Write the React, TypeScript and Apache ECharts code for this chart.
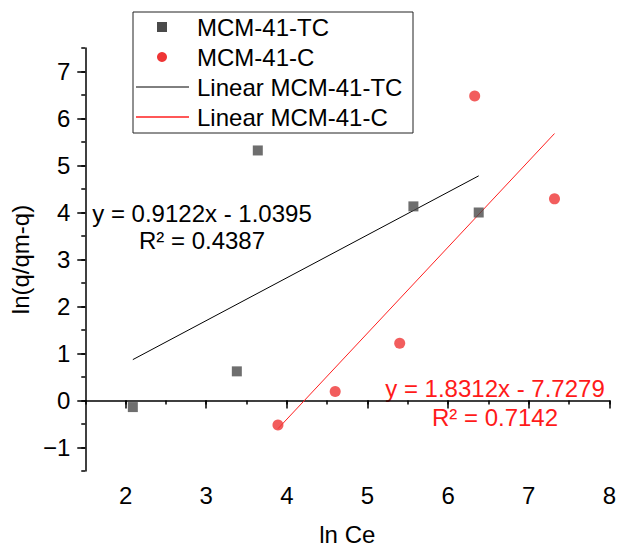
import React, { useEffect, useRef } from "react";
import * as echarts from "echarts";

const tcPoints: [number, number][] = [
  [2.09, -0.14],
  [3.38, 0.62],
  [3.64, 5.32],
  [5.57, 4.13],
  [6.38, 4.0],
];
const cPoints: [number, number][] = [
  [3.89, -0.52],
  [4.6, 0.19],
  [5.4, 1.22],
  [6.33, 6.48],
  [7.32, 4.29],
];
const tcFit: [number, number][] = [
  [2.09, 0.87],
  [6.38, 4.78],
];
const cFit: [number, number][] = [
  [3.89, -0.6],
  [7.32, 5.68],
];
const xTicks = [2, 3, 4, 5, 6, 7, 8];
const yTicks = [-1, 0, 1, 2, 3, 4, 5, 6, 7];
const seriesNames = ["MCM-41-TC", "MCM-41-C", "Linear MCM-41-TC", "Linear MCM-41-C"];
const tcEq = ["y = 0.9122x - 1.0395", "R² = 0.4387"];
const cEq = ["y = 1.8312x - 7.7279", "R² = 0.7142"];

const FONT = "'Liberation Sans', Arial, sans-serif";
const FS = 24;
const RED = "#ef3535";
const LINE_RED = "#ff1f1f";
const GRAY = "#4a4a4a";

export default function App() {
  const ref = useRef<HTMLDivElement>(null);
  useEffect(() => {
    if (!ref.current) return;
    const chart = echarts.init(ref.current, undefined, { renderer: "svg" });
    const fmt = (v: number) => String(v).replace("-", "\u2212");
    const rowY = [27, 57, 87, 117];
    const legendText = (i: number) => ({
      type: "text",
      x: 197,
      y: rowY[i],
      style: {
        text: seriesNames[i],
        fontSize: FS,
        fill: "#000",
        fontFamily: FONT,
        verticalAlign: "middle",
        align: "left",
      },
    });
    chart.setOption({
      animation: false,
      backgroundColor: "#fff",
      textStyle: { fontFamily: FONT },
      grid: { left: 81, right: 6, top: 48, bottom: 73 },
      xAxis: [
        {
          type: "value",
          min: 1.5,
          max: 8,
          name: "ln Ce",
          nameLocation: "middle",
          nameGap: 51,
          nameTextStyle: { fontSize: FS, color: "#000", fontFamily: FONT },
          axisLine: { lineStyle: { color: "#000", width: 1.5 } },
          axisTick: { length: 8, customValues: xTicks, lineStyle: { color: "#000", width: 1.5 } },
          axisLabel: { customValues: xTicks, fontSize: FS, color: "#000", margin: 12, fontFamily: FONT },
          splitLine: { show: false },
        },
        {
          type: "value",
          min: 1.5,
          max: 8,
          interval: 0.5,
          position: "bottom",
          axisLine: { show: false },
          axisTick: { length: 4, lineStyle: { color: "#000", width: 1.5 } },
          axisLabel: { show: false },
          splitLine: { show: false },
        },
      ],
      yAxis: [
        {
          type: "value",
          min: -1.5,
          max: 7.5,
          name: "ln(q/qm-q)",
          nameLocation: "middle",
          nameGap: 47,
          nameTextStyle: { fontSize: FS, color: "#000", fontFamily: FONT },
          axisLine: { show: true, lineStyle: { color: "#000", width: 1.5 } },
          axisTick: { show: true, length: 8, customValues: yTicks, lineStyle: { color: "#000", width: 1.5 } },
          axisLabel: { customValues: yTicks, fontSize: FS, color: "#000", margin: 15, formatter: fmt, fontFamily: FONT },
          splitLine: { show: false },
        },
        {
          type: "value",
          min: -1.5,
          max: 7.5,
          interval: 0.5,
          position: "left",
          axisLine: { show: false },
          axisTick: { show: true, length: 4, lineStyle: { color: "#000", width: 1.5 } },
          axisLabel: { show: false },
          splitLine: { show: false },
        },
      ],
      series: [
        {
          name: seriesNames[2],
          type: "line",
          data: tcFit,
          symbol: "none",
          lineStyle: { color: "#000", width: 1 },
          z: 1,
        },
        {
          name: seriesNames[3],
          type: "line",
          data: cFit,
          symbol: "none",
          lineStyle: { color: LINE_RED, width: 1 },
          z: 1,
        },
        {
          name: seriesNames[0],
          type: "scatter",
          data: tcPoints,
          symbol: "rect",
          symbolSize: 10,
          itemStyle: { color: GRAY },
          z: 3,
        },
        {
          name: seriesNames[1],
          type: "scatter",
          data: cPoints,
          symbol: "circle",
          symbolSize: 11,
          itemStyle: { color: RED },
          z: 3,
        },
      ],
      graphic: [
        {
          type: "rect",
          shape: { x: 133, y: 12, width: 280, height: 121 },
          style: { fill: "#fff", stroke: "#222", lineWidth: 1 },
          z: 10,
        },
        {
          type: "rect",
          shape: { x: 157, y: rowY[0] - 5, width: 10, height: 10 },
          style: { fill: GRAY },
          z: 11,
        },
        {
          type: "circle",
          shape: { cx: 162, cy: rowY[1], r: 5 },
          style: { fill: RED },
          z: 11,
        },
        {
          type: "line",
          shape: { x1: 136, y1: rowY[2], x2: 189, y2: rowY[2] },
          style: { stroke: "#000", lineWidth: 1 },
          z: 11,
        },
        {
          type: "line",
          shape: { x1: 136, y1: rowY[3], x2: 189, y2: rowY[3] },
          style: { stroke: LINE_RED, lineWidth: 1.5 },
          z: 11,
        },
        { ...legendText(0), z: 11 },
        { ...legendText(1), z: 11 },
        { ...legendText(2), z: 11 },
        { ...legendText(3), z: 11 },
        {
          type: "text",
          x: 202,
          y: 213,
          style: { text: tcEq[0], fontSize: FS, fill: "#000", fontFamily: FONT, align: "center", verticalAlign: "middle" },
        },
        {
          type: "text",
          x: 202,
          y: 240,
          style: { text: tcEq[1], fontSize: FS, fill: "#000", fontFamily: FONT, align: "center", verticalAlign: "middle" },
        },
        {
          type: "text",
          x: 495,
          y: 388,
          style: { text: cEq[0], fontSize: FS, fill: "#ff1a1a", fontFamily: FONT, align: "center", verticalAlign: "middle" },
        },
        {
          type: "text",
          x: 495,
          y: 417,
          style: { text: cEq[1], fontSize: FS, fill: "#ff1a1a", fontFamily: FONT, align: "center", verticalAlign: "middle" },
        },
      ],
    });
    return () => chart.dispose();
  }, []);
  return (
    <div
      ref={ref}
      style={{ position: "fixed", left: 0, top: 0, width: 619, height: 551 }}
    />
  );
}
